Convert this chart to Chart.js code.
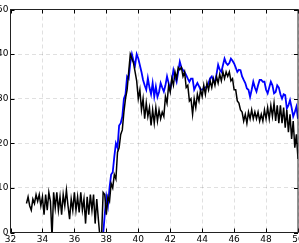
<!DOCTYPE html>
<html>
<head>
<meta charset="utf-8">
<script src="https://cdn.jsdelivr.net/npm/chart.js"></script>
<style>
  html, body { margin: 0; padding: 0; background: #fff; }
  #wrap { width: 299px; height: 243px; }
</style>
</head>
<body>
<div id="wrap"><canvas id="chart" width="299" height="243"></canvas></div>
<script>
// sampling grid (x axis)
const xStep = 0.1;
const blackStart = 33.0;
const blueStart = 37.8;

// black series, 33.0 .. 50.0
const blackValues = [
  6.5, 8, 6, 5, 7.5, 6.5, 8.5, 7, 8.5, 6,
  8, 4, 8.5, 5, 9, 7, -1, 9, 5.5, 9,
  5, 8, 4, 8.5, 6, 9.5, 6, 3, 7.5, 5,
  9, 5, 8, 4.5, 9, 5, 7.5, 2, 8, 4,
  8.5, 5, 8.5, 2, 7.5, 3, -1, -1, 9, 8.5,
  4, 8, 7, 11, 10, 13, 12, 18, 19, 22,
  23, 27, 30, 32, 36, 40, 39, 38, 36, 34,
  30, 32, 27.5, 30, 25.5, 29, 26, 28, 24, 27.5,
  24.5, 28, 25, 27.5, 25.5, 27, 26, 30.5, 29, 33,
  31.5, 34.5, 33, 36, 34.5, 37, 36.5, 37, 35, 36,
  32.5, 33, 29.5, 30, 26.5, 30, 28, 31, 29.5, 32,
  30.5, 33, 31, 33.5, 32, 34, 32.5, 34.5, 33, 35,
  33.5, 35.5, 34, 36, 34.5, 36, 35, 36, 34, 34.5,
  32, 32, 29.5, 29, 27.5, 27, 25, 26.5, 24.5, 27,
  25.5, 27.5, 25.5, 27, 25.5, 27, 25, 26.5, 25, 27.5,
  25.5, 28, 25.5, 28.5, 26, 29, 25, 28.5, 24.5, 28.5,
  24.5, 28, 23.5, 27.5, 22.5, 26.5, 21, 25, 19, 22,
  16.5
];

// blue series, 37.8 .. 50.0
const blueValues = [
  -0.5, 4, 8, 6, 10, 13, 13.5, 17, 20, 19,
  24, 24.5, 26, 30, 31, 35, 34.5, 38, 40, 38.5,
  37.5, 40, 39, 37.5, 36, 34.2, 33, 32, 34.6, 32.5,
  31, 33.5, 30.5, 32.7, 30.4, 31.5, 33.5, 32.5, 31.6, 33,
  35, 33.5, 32, 34, 36.4, 35, 33.8, 36, 38.3, 37,
  36.4, 36, 35.3, 34.5, 33.8, 34.5, 34.5, 32, 32.8, 33.5,
  32.8, 32, 32.1, 32.2, 32.5, 32.7, 33.5, 34.6, 35, 34,
  33.8, 35.5, 37.6, 36.5, 36, 37.5, 39, 38, 37.6, 38,
  39, 38.5, 37.9, 37, 36, 36.5, 36.4, 35, 34.2, 33.5,
  32.3, 32, 30.4, 32, 33.8, 32.5, 31.6, 33, 34.2, 34.2,
  33.8, 33.8, 32, 31.2, 32.5, 33.8, 33, 31.2, 31.5, 33,
  32.5, 31, 30, 31, 30.8, 27.8, 28.5, 29.7, 28, 26,
  27, 28.2, 25.5
];

// tick labels
const xTicks = [32, 34, 36, 38, 40, 42, 44, 46, 48, 50];
const yTicks = [0, 10, 20, 30, 40, 50];

function toPoints(start, values) {
  return values.map((v, i) => ({ x: +(start + i * xStep).toFixed(1), y: v }));
}

// frame + inward ticks on all four sides, like matplotlib
const framePlugin = {
  id: 'frame',
  afterDraw(chart) {
    const { ctx, chartArea: a, scales } = chart;
    ctx.save();
    ctx.strokeStyle = '#000';
    ctx.lineWidth = 1;
    ctx.beginPath();
    xTicks.forEach(t => {
      const px = Math.round(scales.x.getPixelForValue(t)) + 0.5;
      ctx.moveTo(px, a.bottom); ctx.lineTo(px, a.bottom - 4);
      ctx.moveTo(px, a.top); ctx.lineTo(px, a.top + 4);
    });
    yTicks.forEach(t => {
      const py = Math.round(scales.y.getPixelForValue(t)) + 0.5;
      ctx.moveTo(a.left, py); ctx.lineTo(a.left + 4, py);
      ctx.moveTo(a.right, py); ctx.lineTo(a.right - 4, py);
    });
    ctx.stroke();
    ctx.strokeStyle = '#222';
    ctx.strokeRect(a.left, a.top, a.right - a.left, a.bottom - a.top);
    ctx.restore();
  }
};

new Chart(document.getElementById('chart'), {
  type: 'line',
  data: {
    datasets: [
      {
        label: 'black',
        data: toPoints(blackStart, blackValues),
        borderColor: '#000000',
        borderWidth: 1.5,
        pointRadius: 0,
        tension: 0,
        order: 0
      },
      {
        label: 'blue',
        data: toPoints(blueStart, blueValues),
        borderColor: '#0000ff',
        borderWidth: 1.8,
        pointRadius: 0,
        tension: 0,
        order: 1
      }
    ]
  },
  options: {
    responsive: false,
    animation: false,
    events: [],
    layout: { padding: { left: 0, right: 1, top: 9.5, bottom: 0 } },
    plugins: { legend: { display: false }, tooltip: { enabled: false } },
    scales: {
      x: {
        type: 'linear',
        min: 32,
        max: 50,
        afterBuildTicks: s => { s.ticks = xTicks.map(v => ({ value: v })); },
        afterFit: s => { s.height = 10.5; s.paddingLeft = 0; s.paddingRight = 0; },
        ticks: {
          maxRotation: 0,
          autoSkip: false,
          padding: 2,
          color: '#000',
          font: { family: 'DejaVu Sans', size: 9 }
        },
        grid: { color: 'rgba(0,0,0,0.12)', tickLength: 0, drawTicks: false },
        border: { display: false, dash: [4, 3] }
      },
      y: {
        min: 0,
        max: 50,
        afterBuildTicks: s => { s.ticks = yTicks.map(v => ({ value: v })); },
        afterFit: s => { s.width = 10.5; s.paddingTop = 0; s.paddingBottom = 0; },
        ticks: {
          autoSkip: false,
          padding: 2,
          color: '#000',
          font: { family: 'DejaVu Sans', size: 9 }
        },
        grid: { color: 'rgba(0,0,0,0.12)', tickLength: 0, drawTicks: false },
        border: { display: false, dash: [4, 3] }
      }
    }
  },
  plugins: [framePlugin]
});
</script>
</body>
</html>
